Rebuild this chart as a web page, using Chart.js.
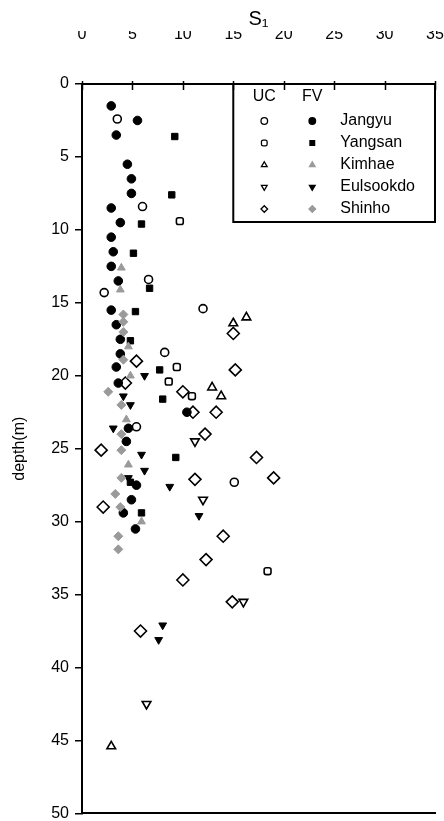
<!DOCTYPE html>
<html><head><meta charset="utf-8">
<script src="https://cdn.jsdelivr.net/npm/chart.js@4/dist/chart.umd.min.js"></script>
<style>html,body{margin:0;padding:0;background:#fff}#wrap{width:444px;height:821px}</style>
</head><body><div id="wrap"><canvas id="c"></canvas></div>
<script>
const xTicks = [0,5,10,15,20,25,30,35];
const yTicks = [0,5,10,15,20,25,30,35,40,45,50];
const seriesNames = ['Jangyu','Yangsan','Kimhae','Eulsookdo','Shinho'];

const jangyuUC = [[3.5,2.4],[6.0,8.4],[6.6,13.4],[2.2,14.3],[12.0,15.4],[8.2,18.4],[5.4,23.5],[15.1,27.3]];
const jangyuFV = [[2.9,1.5],[5.5,2.5],[3.4,3.5],[4.5,5.5],[4.9,6.5],[4.9,7.5],[2.9,8.5],[3.8,9.5],[2.9,10.5],[3.1,11.5],[2.9,12.5],[3.6,13.5],[2.9,15.5],[3.4,16.5],[3.8,17.5],[3.8,18.5],[3.4,19.4],[3.6,20.5],[10.4,22.5],[4.6,23.6],[4.4,24.5],[5.4,27.5],[4.9,28.5],[4.1,29.4],[5.3,30.5]];
const yangsanUC = [[9.7,9.4],[9.4,19.4],[8.6,20.4],[10.9,21.4],[18.4,33.4]];
const yangsanFV = [[9.2,3.6],[8.9,7.6],[5.9,9.6],[5.1,11.6],[6.7,14.0],[5.3,15.6],[4.8,17.6],[7.7,19.6],[8.0,21.6],[9.3,25.6],[4.8,27.3],[5.9,29.4]];
const kimhaeUC = [[16.3,16.0],[15.0,16.4],[12.9,20.8],[13.8,21.4],[2.9,45.4]];
const kimhaeFV = [[3.9,12.6],[3.8,14.1],[4.6,18.0],[4.8,20.0],[4.4,23.0],[4.6,26.1],[5.9,30.0]];
const eulsookdoUC = [[11.2,24.5],[12.0,28.5],[16.0,35.5],[6.4,42.5]];
const eulsookdoFV = [[6.2,20.0],[4.1,21.4],[4.8,22.0],[3.1,23.6],[5.9,25.4],[6.2,26.5],[4.6,27.0],[8.7,27.6],[11.6,29.6],[8.0,37.1],[7.6,38.1]];
const shinhoUC = [[15.0,17.1],[5.4,19.0],[15.2,19.6],[4.3,20.5],[10.0,21.1],[11.0,22.5],[13.3,22.5],[12.2,24.0],[1.9,25.1],[17.3,25.6],[11.2,27.1],[19.0,27.0],[2.1,29.0],[14.0,31.0],[12.3,32.6],[10.0,34.0],[14.9,35.5],[5.8,37.5]];
const shinhoFV = [[4.1,15.8],[4.1,16.3],[4.1,17.0],[4.1,18.9],[2.6,21.1],[3.9,22.0],[3.9,24.0],[3.9,25.1],[3.9,27.0],[3.3,28.1],[3.8,29.0],[3.6,31.0],[3.6,31.9]];

const GRAY = '#9a9a9a';
const toXY = a => a.map(p => ({x:p[0], y:p[1]}));
function ds(label, data, style, filled, color, radius, rotation){
  return {label, data: toXY(data), pointStyle: style, pointRadius: radius, pointRotation: rotation||0,
    backgroundColor: filled ? color : '#fff', borderColor: color, pointBorderWidth: filled?1:1.6, showLine:false};
}
const datasets = [
  ds(seriesNames[4]+' FV', shinhoFV, 'rectRot', true, GRAY, 4.5),
  ds(seriesNames[2]+' FV', kimhaeFV, 'triangle', true, GRAY, 4.5),
  ds(seriesNames[0]+' UC', jangyuUC, 'circle', false, '#000', 4),
  ds(seriesNames[0]+' FV', jangyuFV, 'circle', true, '#000', 4.3),
  ds(seriesNames[1]+' UC', yangsanUC, 'rectRounded', false, '#000', 4),
  ds(seriesNames[1]+' FV', yangsanFV, 'rect', true, '#000', 4.5),
  ds(seriesNames[2]+' UC', kimhaeUC, 'triangle', false, '#000', 5),
  ds(seriesNames[3]+' UC', eulsookdoUC, 'triangle', false, '#000', 5, 180),
  ds(seriesNames[3]+' FV', eulsookdoFV, 'triangle', true, '#000', 4.5, 180),
  ds(seriesNames[4]+' UC', shinhoUC, 'rectRot', false, '#000', 6),
];

const FONT = '"Liberation Sans Narrow","Arial Narrow","Liberation Sans",Arial,sans-serif';

const legendPlugin = {
  id:'legendBox',
  afterDatasetsDraw(chart){
    const {ctx, chartArea, scales} = chart;
    const left = scales.x.getPixelForValue(15), right = chartArea.right, top = chartArea.top;
    const bottom = top + 138;
    ctx.save();
    ctx.fillStyle='#fff'; ctx.fillRect(left, top, right-left, bottom-top);
    ctx.strokeStyle='#000'; ctx.lineWidth=2; ctx.strokeRect(left, top, right-left, bottom-top);
    ctx.fillStyle='#000'; ctx.font='16px '+FONT; ctx.textBaseline='middle'; ctx.textAlign='center';
    const ucX = left+31, fvX = left+79, txtX = left+107;
    ctx.fillText('UC', ucX, top+13); ctx.fillText('FV', fvX, top+13);
    ctx.textAlign='left';
    const order = [[2,3],[4,5],[6,1],[7,8],[9,0]];
    order.forEach((pair,i)=>{
      const y = top+37+i*22;
      pair.forEach((di,j)=>{
        const d = datasets[di];
        const r = 3.3;
        ctx.fillStyle = d.backgroundColor; ctx.strokeStyle = d.borderColor; ctx.lineWidth = 1.3;
        Chart.helpers.drawPoint(ctx, {pointStyle:d.pointStyle, radius:r, rotation:d.pointRotation, borderWidth:1.3}, j?fvX:ucX, y);
      });
      ctx.fillStyle='#000';
      ctx.fillText(seriesNames[i], txtX, y);
    });
    ctx.restore();
  }
};

const tickPlugin = {
  id:'innerTicks',
  afterDraw(chart){
    const {ctx, chartArea, scales} = chart;
    ctx.save(); ctx.strokeStyle='#000'; ctx.lineWidth=1.5;
    xTicks.forEach(v=>{
      const px = Math.round(scales.x.getPixelForValue(v))+0.5;
      ctx.beginPath(); ctx.moveTo(px, chartArea.top-3); ctx.lineTo(px, chartArea.top+6); ctx.stroke();
    });
    ctx.restore();
  }
};

Chart.defaults.font.family = FONT;
Chart.defaults.color = '#000';

new Chart(document.getElementById('c'), {
  type:'scatter',
  data:{datasets},
  options:{
    responsive:true, maintainAspectRatio:false, animation:false,
    layout:{padding:{top:0,left:0,right:9,bottom:7}},
    plugins:{
      legend:{display:false}, tooltip:{enabled:false},
      title:{display:true, text:'S\u2081', fullSize:false, font:{size:20, weight:'normal'}, padding:{top:7,bottom:0}, color:'#000'}
    },
    scales:{
      x:{type:'linear', position:'top', min:0, max:35,
        afterBuildTicks: s => { s.ticks = xTicks.map(v=>({value:v})); },
        afterFit: s => { s.height = 53; s.paddingLeft = 0; s.paddingRight = 0; },
        ticks:{font:{size:16}, padding:40, color:'#000'},
        grid:{display:false, drawTicks:false},
        border:{display:true, color:'#000', width:2}},
      x2:{type:'linear', position:'bottom', min:0, max:35, display:true,
        afterFit: s => { s.height = 0; s.paddingLeft = 0; s.paddingRight = 0; },
        ticks:{display:false}, grid:{display:false, drawTicks:false},
        border:{display:true, color:'#000', width:2}},
      y:{type:'linear', reverse:true, min:0, max:50,
        afterBuildTicks: s => { s.ticks = yTicks.map(v=>({value:v})); },
        afterFit: s => { s.width = 82; s.paddingTop = 0; s.paddingBottom = 0; },
        ticks:{font:{size:16}, padding:6, color:'#000'},
        grid:{display:true, drawOnChartArea:false, drawTicks:true, tickLength:7, color:'#000', lineWidth:1.5},
        border:{display:true, color:'#000', width:2},
        title:{display:true, text:'depth(m)', font:{size:16}, padding:{top:10,bottom:0}, color:'#000'}}
    }
  },
  plugins:[legendPlugin, tickPlugin]
});
</script></body></html>
